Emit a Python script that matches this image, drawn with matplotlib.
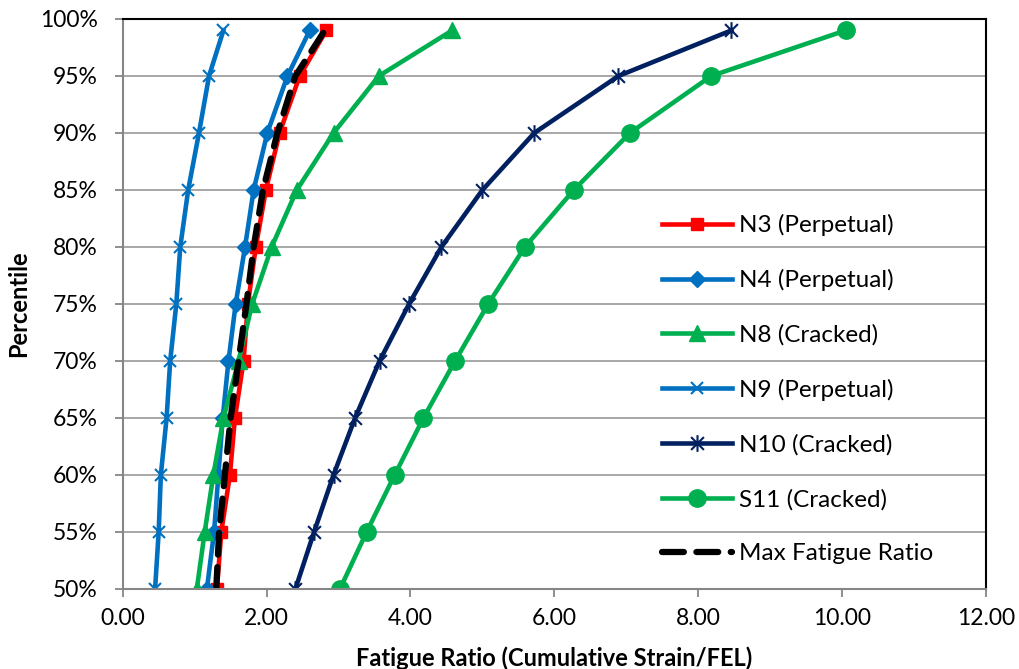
import numpy as np
import matplotlib
matplotlib.use('Agg')
import matplotlib.pyplot as plt
from matplotlib.path import Path
from matplotlib.ticker import FuncFormatter, MultipleLocator

plt.rcParams['font.family'] = ['Lato', 'DejaVu Sans']

# percentiles (y) and fatigue ratios (x)
percentile = [50, 55, 60, 65, 70, 75, 80, 85, 90, 95, 99]
n3 = [1.31, 1.37, 1.49, 1.56, 1.68, 1.74, 1.85, 1.99, 2.18, 2.46, 2.83]
n4 = [1.17, 1.27, 1.33, 1.39, 1.47, 1.57, 1.70, 1.82, 2.01, 2.29, 2.60]
n8 = [1.03, 1.14, 1.26, 1.40, 1.61, 1.80, 2.07, 2.42, 2.93, 3.56, 4.58]
n9 = [0.45, 0.50, 0.53, 0.61, 0.66, 0.745, 0.80, 0.91, 1.06, 1.20, 1.40]
n10 = [2.40, 2.66, 2.93, 3.23, 3.57, 3.98, 4.43, 5.00, 5.72, 6.89, 8.46]
s11 = [3.02, 3.39, 3.78, 4.18, 4.62, 5.08, 5.59, 6.27, 7.05, 8.18, 10.05]
max_ratio = [1.30, 1.34, 1.42, 1.50, 1.61, 1.72, 1.82, 1.95, 2.15, 2.40, 2.81]

labels = ['N3 (Perpetual)', 'N4 (Perpetual)', 'N8 (Cracked)', 'N9 (Perpetual)',
          'N10 (Cracked)', 'S11 (Cracked)', 'Max Fatigue Ratio']

# excel style star marker: an x with a vertical bar
star = Path([(-1, -1), (1, 1), (-1, 1), (1, -1), (0, -1.3), (0, 1.3)],
            [Path.MOVETO, Path.LINETO, Path.MOVETO, Path.LINETO, Path.MOVETO, Path.LINETO])

fig = plt.figure(figsize=(10.2, 6.69), dpi=100)
ax = fig.add_axes([0.1203, 0.1196, 0.8464, 0.852])

lw = 3.3
ax.plot(n3, percentile, color='#FF0000', lw=lw, marker='s', ms=8.5, label=labels[0])
ax.plot(n4, percentile, color='#0070C0', lw=lw, marker='D', ms=8, label=labels[1])
ax.plot(n8, percentile, color='#00B050', lw=lw, marker='^', ms=11, label=labels[2])
ax.plot(n9, percentile, color='#0070C0', lw=lw, marker='x', ms=8, mew=1.5, label=labels[3])
ax.plot(n10, percentile, color='#002060', lw=lw, marker=star, ms=12, mew=1.5, label=labels[4])
ax.plot(s11, percentile, color='#00B050', lw=lw, marker='o', ms=12.5, label=labels[5])
ax.plot(max_ratio, percentile, color='black', lw=4.5, dashes=(3.5, 2),
        dash_capstyle='round', label=labels[6])

ax.set_xlim(0, 12)
ax.set_ylim(50, 100)
ax.xaxis.set_major_locator(MultipleLocator(2))
ax.yaxis.set_major_locator(MultipleLocator(5))
ax.xaxis.set_major_formatter(FuncFormatter(lambda v, p: '%.2f' % v))
ax.yaxis.set_major_formatter(FuncFormatter(lambda v, p: '%d%%' % v))
ax.grid(axis='y', color='#A0A0A0', lw=1.3)
ax.set_axisbelow(True)

for side in ['left', 'bottom']:
    ax.spines[side].set_color('#868686')
    ax.spines[side].set_linewidth(1.5)
for side in ['top', 'right']:
    ax.spines[side].set_color('black')
    ax.spines[side].set_linewidth(1.5)
ax.tick_params(axis='both', colors='#868686', width=1.3, length=6, labelsize=16.5,
               labelcolor='black')
ax.tick_params(axis='y', pad=12)
ax.tick_params(axis='x', pad=8)

ax.set_xlabel('Fatigue Ratio (Cumulative Strain/FEL)', fontsize=17, fontweight='bold', labelpad=12)
ax.set_ylabel('Percentile', fontsize=17, fontweight='bold', labelpad=7)

leg = ax.legend(loc='upper left', bbox_to_anchor=(662 / 1020, 1 - 214 / 669),
                bbox_transform=fig.transFigure, frameon=False, fontsize=17.5,
                handlelength=2.9, handletextpad=0.25, labelspacing=1.36,
                borderpad=0, borderaxespad=0)

plt.savefig('out.png', dpi=100)
